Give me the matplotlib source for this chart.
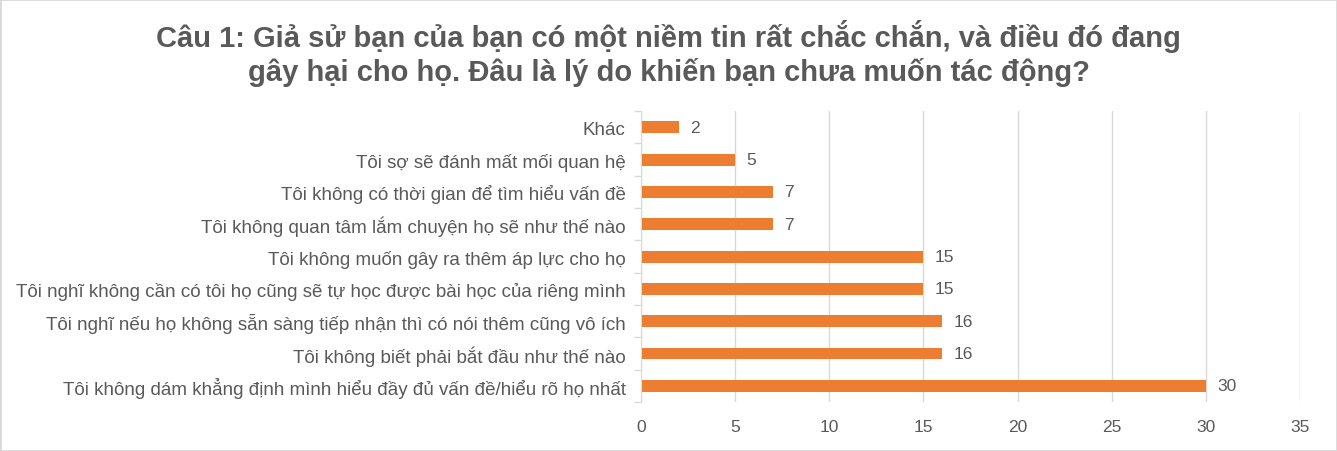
import matplotlib
matplotlib.use("Agg")
import matplotlib.pyplot as plt
from matplotlib.patches import Rectangle

categories = [
    "Tôi không dám khẳng định mình hiểu đầy đủ vấn đề/hiểu rõ họ nhất",
    "Tôi không biết phải bắt đầu như thế nào",
    "Tôi nghĩ nếu họ không sẵn sàng tiếp nhận thì có nói thêm cũng vô ích",
    "Tôi nghĩ không cần có tôi họ cũng sẽ tự học được bài học của riêng mình",
    "Tôi không muốn gây ra thêm áp lực cho họ",
    "Tôi không quan tâm lắm chuyện họ sẽ như thế nào",
    "Tôi không có thời gian để tìm hiểu vấn đề",
    "Tôi sợ sẽ đánh mất mối quan hệ",
    "Khác",
]
values = [30, 16, 16, 15, 15, 7, 7, 5, 2]
xticks = [0, 5, 10, 15, 20, 25, 30, 35]
title = ("Câu 1: Giả sử bạn của bạn có một niềm tin rất chắc chắn, và điều đó đang\n"
         "gây hại cho họ. Đâu là lý do khiến bạn chưa muốn tác động?")

plt.rcParams['font.family'] = ['Liberation Sans', 'DejaVu Sans']
TXT = "#595959"
GRID = "#D9D9D9"
BAR = "#ED7D31"

fig = plt.figure(figsize=(13.37, 4.52), dpi=100)
ax = fig.add_axes([0.4794, 0.1084, 0.4929, 0.6436])

y = list(range(len(categories)))
ax.barh(y, values, height=0.37, color=BAR, zorder=3)
for yi, v in zip(y, values):
    ax.text(v + 0.6, yi, str(v), va="center", ha="left", fontsize=12.5, color=TXT)

ax.set_xlim(0, 35)
ax.set_ylim(-0.5, len(categories) - 0.5)
ax.set_xticks(xticks)
ax.set_xticklabels([str(t) for t in xticks], fontsize=12.5, color=TXT)
ax.set_yticks(y)
ax.set_yticklabels(categories, fontsize=13.5, color=TXT)
ax.set_yticks([i - 0.5 for i in range(len(categories) + 1)], minor=True)
ax.tick_params(axis="y", which="major", length=0, pad=11)
ax.tick_params(axis="y", which="minor", length=5, color=GRID, width=1)
ax.tick_params(axis="x", length=0, pad=12)
ax.grid(axis="x", color=GRID, linewidth=1, zorder=0)
for s in ["top", "right", "bottom"]:
    ax.spines[s].set_visible(False)
ax.spines["left"].set_color(GRID)
ax.spines["left"].set_zorder(4)

fig.suptitle(title, x=0.5, y=0.955, fontsize=21, fontweight="bold", color=TXT,
             linespacing=1.2)

fig.patches.append(Rectangle((0, 0), 1, 1, transform=fig.transFigure, fill=False,
                             edgecolor=GRID, linewidth=2))

fig.savefig("out.png", dpi=100)
